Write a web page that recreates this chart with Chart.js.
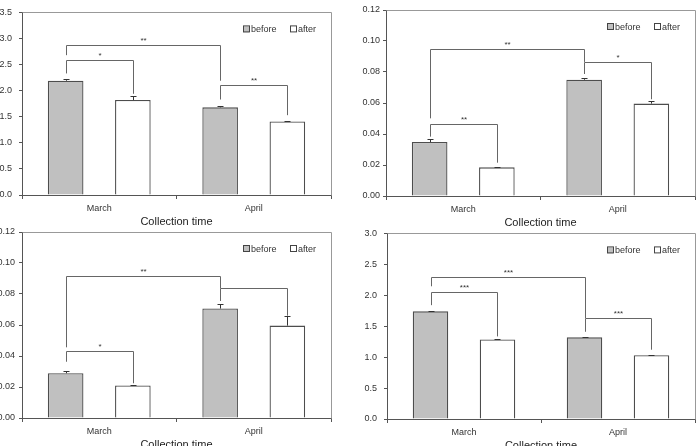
<!DOCTYPE html>
<html>
<head>
<meta charset="utf-8">
<script src="https://cdn.jsdelivr.net/npm/chart.js@4.4.0/dist/chart.umd.min.js"></script>
<style>
  html, body { margin: 0; padding: 0; background: #fff; overflow: hidden; }
  body { width: 697px; height: 446px; position: relative; }
  canvas { position: absolute; }
</style>
</head>
<body>
<canvas id="chartA" width="347" height="231" style="left:0;top:0"></canvas>
<canvas id="chartB" width="350" height="232" style="left:347px;top:0"></canvas>
<canvas id="chartC" width="347" height="233" style="left:0;top:221px"></canvas>
<canvas id="chartD" width="350" height="234" style="left:347px;top:221px"></canvas>
<script>
const categories = ['March', 'April'];
const seriesNames = ['before', 'after'];
const xTitle = 'Collection time';

// top left
const beforeA = [2.19, 1.68];
const afterA = [1.82, 1.41];
const beforeErrA = [0.03, 0.025];
const afterErrA = [0.08, 0.01];
const yTicksA = ['0.0', '0.5', '1.0', '1.5', '2.0', '2.5', '3.0', '3.5'];
// [fromSeries, fromCat, toSeries, toCat, leftEnd, top, rightEnd, mark]
const bracketsA = [
  [0, 0, 0, 1, 2.68, 2.87, 2.19, '**'],
  [0, 0, 1, 0, 2.33, 2.58, 1.94, '*'],
  [0, 1, 1, 1, 1.83, 2.10, 1.53, '**']
];

// top right
const beforeB = [0.0348, 0.0750];
const afterB = [0.0185, 0.0596];
const beforeErrB = [0.0018, 0.0013];
const afterErrB = [0.0004, 0.0017];
const yTicksB = ['0.00', '0.02', '0.04', '0.06', '0.08', '0.10', '0.12'];
const bracketsB = [
  [0, 0, 0, 1, 0.0501, 0.0946, 0.0865, '**'],
  [0, 0, 1, 0, 0.0383, 0.0466, 0.0215, '**'],
  [0, 1, 1, 1, 0.0787, 0.0865, 0.0624, '*']
];

// bottom left
const beforeC = [0.0289, 0.0706];
const afterC = [0.0210, 0.0596];
const beforeErrC = [0.0015, 0.0032];
const afterErrC = [0.0005, 0.0062];
const yTicksC = ['0.00', '0.02', '0.04', '0.06', '0.08', '0.10', '0.12'];
const bracketsC = [
  [0, 0, 0, 1, 0.0456, 0.0916, 0.0837, '**'],
  [0, 0, 1, 0, 0.0363, 0.0432, 0.0224, '*'],
  [0, 1, 1, 1, 0.0755, 0.0837, 0.0660, '']
];

// bottom right
const beforeD = [1.74, 1.32];
const afterD = [1.285, 1.03];
const beforeErrD = [0.01, 0.01];
const afterErrD = [0.01, 0.01];
const yTicksD = ['0.0', '0.5', '1.0', '1.5', '2.0', '2.5', '3.0'];
const bracketsD = [
  [0, 0, 0, 1, 2.145, 2.30, 1.63, '***'],
  [0, 0, 1, 0, 1.84, 2.05, 1.335, '***'],
  [0, 1, 1, 1, 1.41, 1.63, 1.12, '***']
];

const FONT = 'Arial, "Liberation Sans", sans-serif';
const TEXT = '#333';
const AXIS = '#555';

const extrasPlugin = {
  id: 'extras',
  afterDatasetsDraw(chart, args, opts) {
    const { ctx, chartArea: a, scales: { y } } = chart;
    const px = v => Math.round(v) + 0.5;
    ctx.save();

    // frame (top and right)
    ctx.strokeStyle = '#999';
    ctx.lineWidth = 1;
    ctx.beginPath();
    ctx.moveTo(px(a.left), px(a.top));
    ctx.lineTo(px(a.right), px(a.top));
    ctx.lineTo(px(a.right), px(a.bottom));
    ctx.stroke();

    // error bars (upper half only visible)
    ctx.strokeStyle = '#333';
    opts.errors.forEach((errs, ds) => {
      const meta = chart.getDatasetMeta(ds);
      errs.forEach((e, i) => {
        const bar = meta.data[i];
        const v = chart.data.datasets[ds].data[i];
        const yTop = y.getPixelForValue(v + e);
        ctx.beginPath();
        ctx.moveTo(px(bar.x), bar.y);
        ctx.lineTo(px(bar.x), px(yTop));
        ctx.moveTo(px(bar.x) - 3, px(yTop));
        ctx.lineTo(px(bar.x) + 3, px(yTop));
        ctx.stroke();
      });
    });

    // significance brackets
    ctx.strokeStyle = '#666';
    ctx.fillStyle = '#333';
    ctx.font = '8px ' + FONT;
    ctx.textAlign = 'center';
    ctx.textBaseline = 'middle';
    opts.brackets.forEach(([s1, c1, s2, c2, yl, yt, yr, mark]) => {
      const x1 = px(chart.getDatasetMeta(s1).data[c1].x);
      const x2 = px(chart.getDatasetMeta(s2).data[c2].x);
      const top = px(y.getPixelForValue(yt));
      ctx.beginPath();
      ctx.moveTo(x1, y.getPixelForValue(yl));
      ctx.lineTo(x1, top);
      ctx.lineTo(x2, top);
      ctx.lineTo(x2, y.getPixelForValue(yr));
      ctx.stroke();
      if (mark) ctx.fillText(mark, (x1 + x2) / 2, top - 5);
    });

    // legend inside plot, top right
    ctx.font = '9px ' + FONT;
    ctx.textAlign = 'left';
    const ly = a.top + 17;
    const lx = [a.right - 88, a.right - 41];
    chart.data.datasets.forEach((d, i) => {
      ctx.fillStyle = d.backgroundColor;
      ctx.fillRect(lx[i], ly - 3, 6, 6);
      ctx.strokeStyle = '#444';
      ctx.strokeRect(lx[i] + 0.5, ly - 3.5, 6, 6);
      ctx.fillStyle = TEXT;
      ctx.fillText(d.label, lx[i] + 8, ly + 0.5);
    });
    ctx.restore();
  }
};

function makeChart(id, before, after, beforeErr, afterErr, yTicks, brackets, yWidth, yPad, padTop, padRight) {
  new Chart(document.getElementById(id).getContext('2d'), {
    type: 'bar',
    data: {
      labels: categories,
      datasets: [
        { label: seriesNames[0], data: before, backgroundColor: '#c0c0c0', borderColor: '#4d4d4d', borderWidth: 1.3 },
        { label: seriesNames[1], data: after, backgroundColor: '#ffffff', borderColor: '#4d4d4d', borderWidth: 1.3 }
      ]
    },
    options: {
      responsive: false,
      animation: false,
      datasets: { bar: { categoryPercentage: 0.87, barPercentage: 0.53 } },
      layout: { padding: { top: padTop, right: padRight, left: 0, bottom: 0 } },
      plugins: {
        legend: { display: false },
        tooltip: { enabled: false },
        extras: { errors: [beforeErr, afterErr], brackets: brackets }
      },
      scales: {
        x: {
          grid: { offset: true, drawOnChartArea: false, color: AXIS, tickLength: 4 },
          border: { color: AXIS, width: 1 },
          ticks: { color: TEXT, font: { family: FONT, size: 9 }, padding: 4 },
          title: { display: true, text: xTitle, color: '#222', font: { family: FONT, size: 11 }, padding: { top: 0, bottom: 2 } },
          afterFit: s => { s.height = 36; }
        },
        y: {
          min: parseFloat(yTicks[0]),
          max: parseFloat(yTicks[yTicks.length - 1]),
          afterBuildTicks: s => { s.ticks = yTicks.map(t => ({ value: parseFloat(t) })); },
          grid: { drawOnChartArea: false, color: AXIS, tickLength: 3 },
          border: { color: AXIS, width: 1 },
          ticks: { color: TEXT, font: { family: FONT, size: 9 }, padding: yPad, callback: (v, i) => yTicks[i] },
          afterFit: s => { s.width = yWidth; }
        }
      }
    },
    plugins: [extrasPlugin]
  });
}

makeChart('chartA', beforeA, afterA, beforeErrA, afterErrA, yTicksA, bracketsA, 22, 7, 11, 16);
makeChart('chartB', beforeB, afterB, beforeErrB, afterErrB, yTicksB, bracketsB, 39, 3, 10, 2);
makeChart('chartC', beforeC, afterC, beforeErrC, afterErrC, yTicksC, bracketsC, 22, 4, 11, 16);
makeChart('chartD', beforeD, afterD, beforeErrD, afterErrD, yTicksD, bracketsD, 40, 7, 12, 2);
</script>
</body>
</html>
